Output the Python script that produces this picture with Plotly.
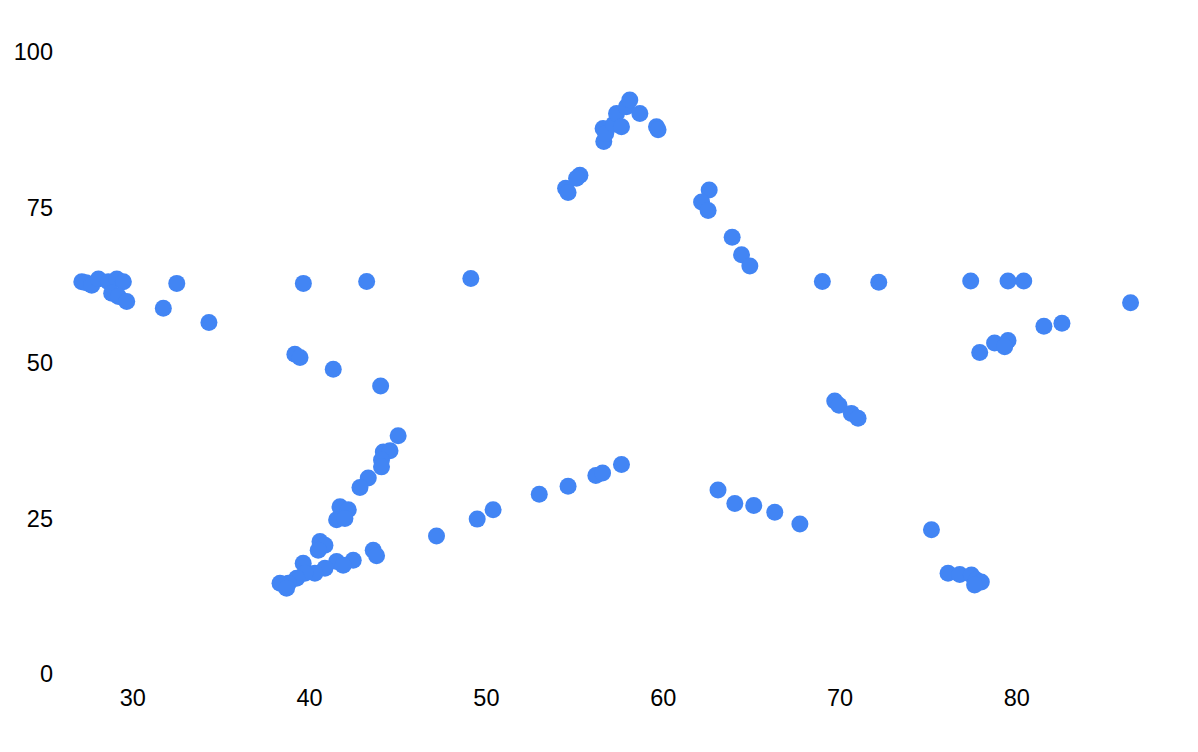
import plotly.graph_objects as go

# Data (x, y)
x_vals = [
    27.12, 27.36, 27.68, 28.06, 28.62, 29.10, 29.47, 28.81, 29.19, 29.66,
    32.49, 31.73, 34.31,
    39.65, 43.23, 39.17, 39.46, 41.34, 44.02, 49.12,
    45.01, 44.17, 44.55, 44.07, 44.07, 43.32, 42.85, 41.72, 42.19, 41.53,
    42.00, 40.59, 40.87, 40.49, 43.60, 43.79, 42.47, 39.64, 41.53, 41.90,
    40.87, 40.30, 39.74, 39.27, 38.80, 38.33, 38.70,
    47.18, 49.48, 50.38, 52.99, 54.62, 56.19, 56.57, 57.64,
    63.10, 64.05, 65.12, 66.31, 67.73,
    69.70, 69.94, 70.64, 71.02, 75.17,
    76.11, 76.77, 77.43, 77.71, 77.99, 77.61,
    54.48, 54.62, 55.29, 55.10,
    56.60, 56.64, 56.75, 57.20, 57.36, 57.64, 57.92, 58.11, 58.68, 59.62, 59.71,
    62.60, 62.17, 62.54, 63.90, 64.43, 64.90,
    69.00, 72.19, 77.39, 79.50, 80.39, 86.43,
    81.53, 82.55, 77.90, 78.74, 79.50, 79.31,
]
y_vals = [
    63.07, 62.9, 62.5, 63.5, 63.07, 63.5, 63.07, 61.2, 60.7, 59.9,
    62.8, 58.8, 56.5,
    62.8, 63.1, 51.4, 50.9, 49.0, 46.3, 63.6,
    38.3, 35.7, 35.9, 34.4, 33.3, 31.5, 30.0, 26.9, 26.4, 24.8,
    25.0, 21.3, 20.7, 19.9, 19.9, 19.0, 18.3, 17.8, 18.1, 17.5,
    17.0, 16.2, 16.2, 15.4, 14.6, 14.6, 13.8,
    22.2, 24.9, 26.4, 28.9, 30.2, 31.9, 32.3, 33.7,
    29.6, 27.4, 27.1, 26.0, 24.1,
    43.9, 43.2, 41.9, 41.1, 23.2,
    16.2, 16.0, 15.9, 15.1, 14.8, 14.3,
    78.1, 77.4, 80.2, 79.7,
    87.7, 85.6, 86.9, 88.4, 90.1, 88.0, 91.2, 92.3, 90.1, 88.0, 87.5,
    77.8, 75.9, 74.5, 70.2, 67.4, 65.6,
    63.1, 63.0, 63.2, 63.2, 63.2, 59.7,
    55.9, 56.4, 51.7, 53.2, 53.6, 52.6,
]

x_ticks = [30, 40, 50, 60, 70, 80]
y_ticks = [0, 25, 50, 75, 100]

fig = go.Figure()
fig.add_trace(go.Scatter(
    x=x_vals, y=y_vals, mode="markers",
    marker=dict(size=17, color="#4285F4", line=dict(width=0)),
    cliponaxis=False, showlegend=False,
))

fig.update_layout(
    width=1182, height=736,
    margin=dict(l=54, r=14, t=44, b=70),
    paper_bgcolor="white", plot_bgcolor="white",
    font=dict(family="Liberation Sans, Arial, sans-serif", size=23.5, color="#000000"),
    xaxis=dict(range=[26, 89], tickvals=x_ticks, showgrid=False, zeroline=False,
               showline=False, ticks="", ticklabelstandoff=7, automargin=False),
    yaxis=dict(range=[0, 100], tickvals=y_ticks, showgrid=False, zeroline=False,
               showline=False, ticks="", ticklabelstandoff=8, automargin=False),
)

fig.write_html("out.html")
